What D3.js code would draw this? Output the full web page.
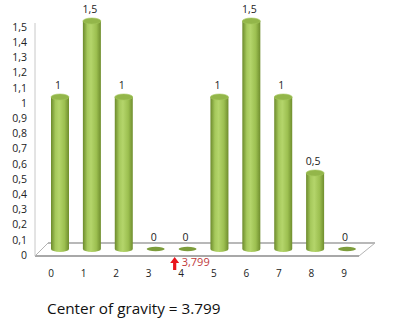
<!DOCTYPE html>
<html><head><meta charset="utf-8">
<script src="https://cdn.jsdelivr.net/npm/d3@7"></script>
<style>body{margin:0;background:#fff}svg{display:block}text{font-family:"Open Sans",sans-serif}</style>
</head><body><div id="c"></div>
<script>
const categories = ["0","1","2","3","4","5","6","7","8","9"];
const values = [1, 1.5, 1, 0, 0, 1, 1.5, 1, 0.5, 0];
const valueLabels = ["1","1,5","1","0","0","1","1,5","1","0,5","0"];
const yTicks = [0,0.1,0.2,0.3,0.4,0.5,0.6,0.7,0.8,0.9,1,1.1,1.2,1.3,1.4,1.5];
const centerOfGravity = 3.799;
const cogLabel = "3,799";
const title = "Center of gravity = 3.799";

const W = 397, H = 328;
const svg = d3.select("#c").append("svg").attr("width", W).attr("height", H);
const defs = svg.append("defs");
const g1 = defs.append("linearGradient").attr("id","cyl").attr("x1","0").attr("x2","1").attr("y1","0").attr("y2","0");
[[0,"#6c8a2c"],[0.25,"#a6c95c"],[0.45,"#b4d56b"],[0.75,"#9cbf50"],[1,"#6f8d2e"]].forEach(([o,c])=>g1.append("stop").attr("offset",o).attr("stop-color",c));

const fmt = d => String(d).replace(".", ",");
const y = d3.scaleLinear().domain([0,1.5]).range([255,27]);
const depth = -6;
const xBar = d3.scalePoint().domain(categories).range([60,347]);
const xLab = d3.scaleLinear().domain([0,9]).range([51,344]);

// floor
const floor = [[35,256],[359,256],[375,243],[48,243]];
svg.append("path").attr("d", d3.line()(floor)+"Z").attr("fill","#fff").attr("stroke","#b4b4b4").attr("stroke-width",1);
svg.append("line").attr("x1",35).attr("x2",359).attr("y1",256).attr("y2",256).attr("stroke","#a8a8a8").attr("stroke-width",2);
svg.append("line").attr("x1",48).attr("x2",375).attr("y1",243).attr("y2",243).attr("stroke","#b8b8b8").attr("stroke-width",2);
// vertical axis line
svg.append("line").attr("x1",35).attr("x2",35).attr("y1",y(1.5)-4).attr("y2",256).attr("stroke","#c8c8c8").attr("stroke-width",1);

// y axis labels
const yAxis = d3.axisLeft(y).tickValues(yTicks).tickFormat(fmt).tickSize(0).tickPadding(0);
const ya = svg.append("g").attr("transform","translate(27,0)").call(yAxis);
ya.select(".domain").remove();
ya.selectAll("text").attr("font-size",10.5).attr("fill","#222").attr("font-family","'Open Sans',sans-serif");

// bars
const rw = 9, ry = 3;
const bars = svg.append("g");
categories.forEach((c,i)=>{
  const cx = xBar(c), v = values[i];
  const yb = y(0)+depth, yt = y(v)+depth;
  if (v > 0) {
    bars.append("path").attr("d",
      `M${cx-rw},${yt} L${cx-rw},${yb} A${rw},${ry} 0 0 0 ${cx+rw},${yb} L${cx+rw},${yt} Z`)
      .attr("fill","url(#cyl)");
    bars.append("ellipse").attr("cx",cx).attr("cy",yt).attr("rx",rw).attr("ry",ry)
      .attr("fill","#93b64a").attr("stroke","#a3c65a").attr("stroke-width",0.6);
  } else {
    bars.append("ellipse").attr("cx",cx).attr("cy",yb).attr("rx",rw).attr("ry",2.2).attr("fill","#7d9d3c");
  }
  svg.append("text").attr("x",cx-2).attr("y",yt-ry-5).attr("text-anchor","middle")
    .attr("font-size",10.5).attr("fill","#222").text(valueLabels[i]);
});

// x axis labels
const xa = svg.append("g");
categories.forEach((c,i)=>{
  xa.append("text").attr("x",xLab(i)).attr("y",277).attr("text-anchor","middle")
    .attr("font-size",10).attr("fill","#222").text(c);
});

// center of gravity arrow
const ax = xLab(centerOfGravity);
svg.append("path").attr("d",
  `M${ax},257 L${ax+4.5},263 L${ax+1.6},263 L${ax+1.6},270 L${ax-1.6},270 L${ax-1.6},263 L${ax-4.5},263 Z`)
  .attr("fill","#e8141c");
svg.append("text").attr("x",ax+7).attr("y",266).attr("font-size",11).attr("fill","#c0393b").text(cogLabel);

svg.append("text").attr("x",47).attr("y",314).attr("font-size",15.3).attr("fill","#111")
  .attr("font-family","Carlito,'Open Sans',sans-serif").text(title);
</script></body></html>
